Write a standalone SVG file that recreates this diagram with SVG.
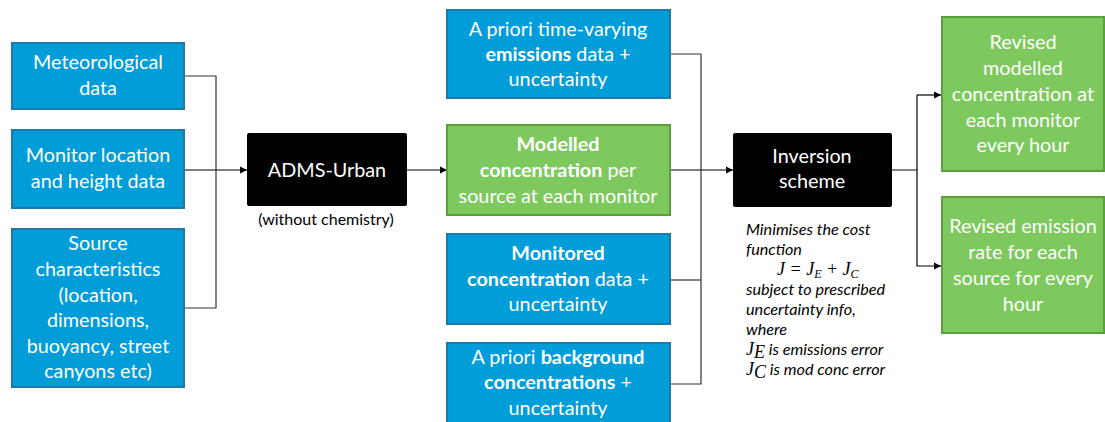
<svg xmlns="http://www.w3.org/2000/svg" width="1105" height="422" viewBox="0 0 1105 422">
<defs>
<marker id="arr" markerWidth="8" markerHeight="8" refX="7" refY="4" orient="auto" markerUnits="userSpaceOnUse">
<path d="M0,0.5 L7,4 L0,7.5 Z" fill="#000"/>
</marker>
<style>
.blue{fill:#009DD9;stroke:#1F78AA;stroke-width:2}
.green{fill:#7DC95E;stroke:#5A9E3E;stroke-width:2}
.black{fill:#000;stroke:none}
.t{font-family:Lato,"Liberation Sans",sans-serif;font-size:19.8px;fill:#fff;text-anchor:middle}
.b{font-weight:bold}
.note{font-family:Lato,"Liberation Sans",sans-serif;font-size:16.2px;font-style:italic;fill:#000}
.math{font-family:"Liberation Serif",serif;font-style:italic;font-size:18px;fill:#000}
.conn{fill:none;stroke:#333;stroke-width:1.2}
.conna{fill:none;stroke:#000;stroke-width:1.2;marker-end:url(#arr)}
</style>
</defs>
<rect width="1105" height="422" fill="#fff"/>

<g id="connectors">
<path class="conn" d="M184,76 H216 V308 H184"/>
<path class="conna" d="M184,170 H247"/>
<path class="conna" d="M407,170 H447"/>
<path class="conn" d="M670,54 H701 V384 H670"/>
<path class="conn" d="M670,280 H701"/>
<path class="conna" d="M670,170 H733"/>
<path class="conn" d="M892,170 H917"/>
<path class="conna" d="M917,95 V266 H941"/>
<path class="conna" d="M917,95 H941"/>
</g>

<g id="met">
<rect class="blue" x="12" y="43" width="172" height="66"/>
<text class="t" x="98" y="69">Meteorological</text>
<text class="t" x="98" y="95">data</text>
</g>
<g id="monitor">
<rect class="blue" x="12" y="130" width="172" height="78"/>
<text class="t" x="98" y="162">Monitor location</text>
<text class="t" x="98" y="188">and height data</text>
</g>
<g id="source">
<rect class="blue" x="12" y="229" width="172" height="158"/>
<text class="t" x="98" y="250">Source</text>
<text class="t" x="98" y="276">characteristics</text>
<text class="t" x="98" y="302">(location,</text>
<text class="t" x="98" y="327">dimensions,</text>
<text class="t" x="98" y="353">buoyancy, street</text>
<text class="t" x="98" y="378">canyons etc)</text>
</g>

<g id="adms">
<rect class="black" x="247" y="133" width="160" height="73" rx="2"/>
<text class="t" x="327" y="177">ADMS-Urban</text>
<text class="t" x="326" y="225" style="fill:#000;font-size:16px">(without chemistry)</text>
</g>

<g id="emissions">
<rect class="blue" x="447" y="10" width="223" height="88"/>
<text class="t" x="558" y="36">A priori time-varying</text>
<text class="t" x="558" y="61"><tspan class="b">emissions</tspan> data +</text>
<text class="t" x="558" y="86">uncertainty</text>
</g>
<g id="modelled">
<rect class="green" x="447" y="125" width="223" height="90"/>
<text class="t" x="558" y="151"><tspan class="b">Modelled</tspan></text>
<text class="t" x="558" y="177"><tspan class="b">concentration</tspan> per</text>
<text class="t" x="558" y="203">source at each monitor</text>
</g>
<g id="monitored">
<rect class="blue" x="447" y="234" width="223" height="90"/>
<text class="t" x="558" y="260"><tspan class="b">Monitored</tspan></text>
<text class="t" x="558" y="286"><tspan class="b">concentration</tspan> data +</text>
<text class="t" x="558" y="311">uncertainty</text>
</g>
<g id="background">
<rect class="blue" x="447" y="343" width="223" height="90"/>
<text class="t" x="558" y="364">A priori <tspan class="b">background</tspan></text>
<text class="t" x="558" y="389"><tspan class="b">concentrations</tspan> +</text>
<text class="t" x="558" y="415">uncertainty</text>
</g>

<g id="inversion">
<rect class="black" x="733" y="133" width="159" height="74" rx="2"/>
<text class="t" x="812" y="163">Inversion</text>
<text class="t" x="812" y="188">scheme</text>
<text class="note" x="746" y="235">Minimises the cost</text>
<text class="note" x="746" y="255">function</text>
<text class="math" x="777" y="275">J = J<tspan font-size="12" dy="3">E</tspan><tspan dy="-3"> + J</tspan><tspan font-size="12" dy="3">C</tspan></text>
<text class="note" x="746" y="295">subject to prescribed</text>
<text class="note" x="746" y="315">uncertainty info,</text>
<text class="note" x="746" y="335">where</text>
<text class="note" x="746" y="355"><tspan class="math">J</tspan><tspan class="math" font-size="12" dy="3">E</tspan><tspan dy="-3"> is emissions error</tspan></text>
<text class="note" x="746" y="375"><tspan class="math">J</tspan><tspan class="math" font-size="12" dy="3">C</tspan><tspan dy="-3"> is mod conc error</tspan></text>
</g>

<g id="revconc">
<rect class="green" x="942" y="17" width="162" height="154"/>
<text class="t" x="1023" y="49">Revised</text>
<text class="t" x="1023" y="75">modelled</text>
<text class="t" x="1023" y="101">concentration at</text>
<text class="t" x="1023" y="127">each monitor</text>
<text class="t" x="1023" y="152">every hour</text>
</g>
<g id="revemis">
<rect class="green" x="942" y="197" width="162" height="136"/>
<text class="t" x="1023" y="233">Revised emission</text>
<text class="t" x="1023" y="259">rate for each</text>
<text class="t" x="1023" y="285">source for every</text>
<text class="t" x="1023" y="311">hour</text>
</g>
</svg>
